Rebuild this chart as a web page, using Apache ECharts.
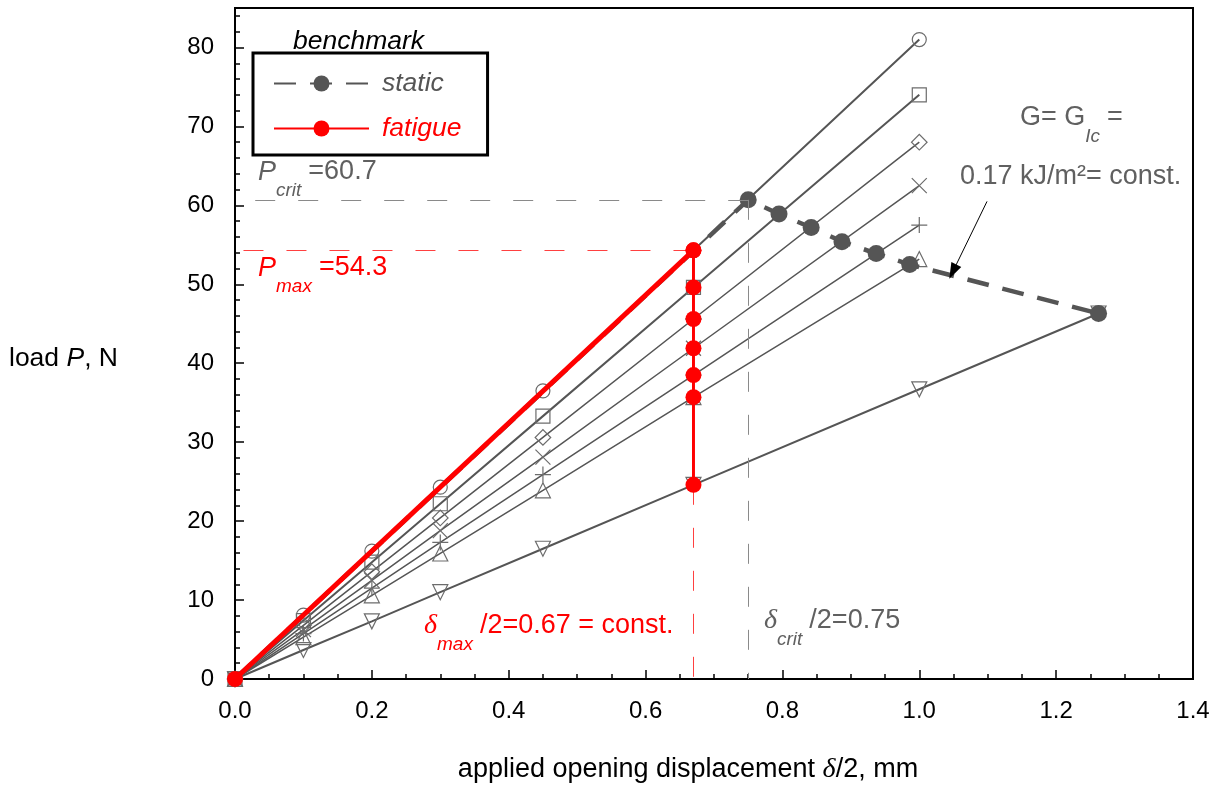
<!DOCTYPE html>
<html>
<head>
<meta charset="utf-8">
<script src="https://cdn.jsdelivr.net/npm/echarts@6/dist/echarts.min.js"></script>
<style>
  html, body { margin: 0; padding: 0; background: #fff; }
  #chart { width: 1220px; height: 786px; }
</style>
</head>
<body>
<div id="chart"></div>
<script>
// Opening displacement δ/2 (mm) at which each compliance line is sampled
const dispSteps = [0, 0.1, 0.2, 0.3, 0.45, 0.67, 1.0];
// Load P (N) along each linear-elastic compliance line (one per crack length)
const loadCircle  = [0, 8.1, 16.2, 24.3, 36.5, 54.3, 81.0];
const loadSquare  = [0, 7.4, 14.8, 22.2, 33.3, 49.6, 74.0];
const loadDiamond = [0, 6.8, 13.6, 20.4, 30.6, 45.6, 68.0];
const loadCross   = [0, 6.25, 12.5, 18.8, 28.1, 41.9, 62.5];
const loadPlus    = [0, 5.75, 11.5, 17.3, 25.9, 38.5, 57.5];
const loadTriUp   = [0, 5.3, 10.6, 15.9, 23.9, 35.7, 53.2];
// the longest crack line runs on to the last static point
const dispTriDown = [0, 0.1, 0.2, 0.3, 0.45, 0.67, 1.0, 1.262];
const loadTriDown = [0, 3.67, 7.3, 11.0, 16.5, 24.6, 36.7, 46.3];

// Static benchmark: crack growth along G = G_Ic
const staticDisp = [0, 0.75, 0.795, 0.842, 0.887, 0.937, 0.986, 1.262];
const staticLoad = [0, 60.7, 58.9, 57.2, 55.4, 53.9, 52.5, 46.3];

// Fatigue benchmark: load up to δmax/2, then hold δmax/2 constant
const DELTA_MAX = 0.67;
const DELTA_CRIT = 0.75;
const P_MAX = 54.3;
const P_CRIT = 60.7;
const fatigueLoads = [54.3, 49.6, 45.6, 41.9, 38.5, 35.7, 24.6];

// Axis ranges
const X_MIN = 0, X_MAX = 1.4, X_STEP = 0.2;
const Y_MIN = 0, Y_MAX = 85, Y_STEP = 10;

const FONT = 'Liberation Sans, Arial, Helvetica, sans-serif';
const SERIF = 'Liberation Serif, DejaVu Serif, serif';
const GRAY_LINE = '#555555';
const GRAY_MARK = '#6c6c6c';
const GRAY_TEXT = '#606060';
const RED = '#ff0000';

const pair = (xs, ys) => xs.map((x, i) => [x, ys[i]]);

function complianceLine(xs, ys, symbol, size, width, extra) {
  return Object.assign({
    type: 'line',
    data: pair(xs, ys),
    symbol: symbol,
    symbolSize: size,
    showAllSymbol: true,
    lineStyle: { color: GRAY_LINE, width: width },
    itemStyle: { color: 'rgba(0,0,0,0)', borderColor: GRAY_MARK, borderWidth: 1.2 },
    emphasis: { disabled: true },
    z: 2
  }, extra || {});
}

const dashGray = { color: '#8a8a8a', width: 1, type: [20, 23] };
const dashRed = { color: '#ff4040', width: 1, type: [20, 23] };

// annotation text styles: main text plus lowered subscript
const MAIN_PX = 27, SUB_PX = 19;
const subPad = [38, 7, 0, 0];
function annoStyle(text, color, x, y) {
  return {
    type: 'text', x: x, y: y, silent: true,
    style: {
      text: text,
      font: MAIN_PX + 'px ' + FONT, fill: color, lineHeight: 30, align: 'left', verticalAlign: 'middle',
      rich: {
        i: { font: 'italic ' + MAIN_PX + 'px ' + FONT, fill: color, lineHeight: 30 },
        d: { font: 'italic 28px ' + SERIF, fill: color, lineHeight: 30 },
        s: { font: 'italic ' + SUB_PX + 'px ' + FONT, fill: color, lineHeight: 22, padding: subPad }
      }
    }
  };
}

const chart = echarts.init(document.getElementById('chart'), null, { renderer: 'canvas' });

const option = {
  animation: false,
  backgroundColor: '#fff',
  grid: {
    left: 235, right: 27, top: 8, bottom: 107,
    containLabel: false, outerBoundsMode: 'none',
    show: true, borderColor: '#000', borderWidth: 2, backgroundColor: 'transparent'
  },
  xAxis: {
    type: 'value', min: X_MIN, max: X_MAX, interval: X_STEP,
    axisLine: { lineStyle: { color: '#000', width: 2 } },
    axisTick: { inside: true, length: 9, lineStyle: { color: '#000', width: 1.5 } },
    minorTick: { show: true, splitNumber: 4, length: 5, lineStyle: { color: '#000', width: 1.5 } },
    splitLine: { show: false },
    minorSplitLine: { show: false },
    axisLabel: { formatter: v => v.toFixed(1), fontSize: 24, color: '#000', fontFamily: FONT, margin: 20 },
    name: 'applied opening displacement {d|δ}/2, mm',
    nameLocation: 'middle', nameGap: 77,
    nameTextStyle: {
      fontSize: 27, color: '#000', fontFamily: FONT, padding: [0, 52, 0, 0],
      rich: { d: { fontSize: 28, fontStyle: 'italic', fontFamily: SERIF, color: '#000' } }
    }
  },
  yAxis: {
    type: 'value', min: Y_MIN, max: Y_MAX, interval: Y_STEP,
    axisLine: { lineStyle: { color: '#000', width: 2 } },
    axisTick: { inside: true, length: 9, lineStyle: { color: '#000', width: 1.5 } },
    minorTick: { show: true, splitNumber: 5, length: 5, lineStyle: { color: '#000', width: 1.5 } },
    splitLine: { show: false },
    minorSplitLine: { show: false },
    axisLabel: { fontSize: 24, color: '#000', fontFamily: FONT, margin: 21, showMaxLabel: false },
    name: 'load {p|P}, N',
    nameLocation: 'middle', nameRotate: 0, nameGap: 117,
    nameTextStyle: {
      fontSize: 26.5, color: '#000', fontFamily: FONT, align: 'right', padding: [30, 0, 0, 0],
      rich: { p: { fontSize: 26.5, fontStyle: 'italic', fontFamily: FONT, color: '#000' } }
    }
  },
  legend: {
    left: 253, top: 53, orient: 'vertical',
    data: [
      { name: 'static', textStyle: { color: GRAY_LINE } },
      { name: 'fatigue', textStyle: { color: RED } }
    ],
    itemWidth: 95, itemHeight: 20, itemGap: 18,
    padding: [17, 26, 13, 20],
    borderColor: '#000', borderWidth: 3, borderRadius: 0,
    textStyle: { fontSize: 26.5, fontStyle: 'italic', fontFamily: FONT, padding: [0, 0, 0, 8] },
    selectedMode: false
  },
  series: [
    complianceLine(dispSteps, loadCircle, 'circle', 14, 2),
    complianceLine(dispSteps, loadSquare, 'rect', 14, 2),
    complianceLine(dispSteps, loadDiamond, 'rect', 11, 1.5, { symbolRotate: 45 }),
    complianceLine(dispSteps, loadCross, 'path://M0,0L10,10M10,0L0,10', 15, 1.5),
    complianceLine(dispSteps, loadPlus, 'path://M5,0L5,10M0,5L10,5', 16, 1.5),
    complianceLine(dispSteps, loadTriUp, 'triangle', 15, 1.5),
    complianceLine(dispTriDown, loadTriDown, 'triangle', 15, 2, { symbolRotate: 180 }),
    {
      name: 'static', type: 'line',
      data: staticDisp.map((x, i) => ({ value: [x, staticLoad[i]], symbol: i === 0 ? 'none' : 'circle' })),
      symbol: 'circle', symbolSize: 17, showAllSymbol: true,
      lineStyle: { color: GRAY_LINE, width: 4.5, type: [22, 14] },
      itemStyle: { color: GRAY_LINE },
      emphasis: { disabled: true },
      z: 3,
      markLine: {
        silent: true, symbol: ['none', 'none'], label: { show: false },
        animation: false,
        data: [
          [{ coord: [DELTA_CRIT, P_CRIT], lineStyle: dashGray }, { coord: [X_MIN, P_CRIT] }],
          [{ coord: [DELTA_CRIT, P_CRIT], lineStyle: dashGray }, { coord: [DELTA_CRIT, Y_MIN] }],
          [
            { coord: [1.099, 60.5], symbol: 'none', lineStyle: { color: '#000', width: 1, type: 'solid' } },
            { coord: [1.049, 51.6], symbol: 'triangle', symbolSize: [11, 16] }
          ]
        ]
      }
    },
    {
      name: 'fatigue', type: 'line',
      data: [[0, 0], [DELTA_MAX, P_MAX]],
      symbol: 'circle', symbolSize: 16,
      lineStyle: { color: RED, width: 5 },
      itemStyle: { color: RED },
      emphasis: { disabled: true },
      z: 5,
      markLine: {
        silent: true, symbol: ['none', 'none'], label: { show: false },
        animation: false,
        lineStyle: dashRed,
        data: [
          [{ coord: [DELTA_MAX, P_MAX], lineStyle: dashRed }, { coord: [X_MIN, P_MAX] }],
          [{ coord: [DELTA_MAX, fatigueLoads[fatigueLoads.length - 1]], lineStyle: dashRed }, { coord: [DELTA_MAX, Y_MIN] }]
        ]
      }
    },
    {
      name: 'fatigue', type: 'line',
      data: fatigueLoads.map(p => [DELTA_MAX, p]),
      symbol: 'circle', symbolSize: 16, showAllSymbol: true,
      lineStyle: { color: RED, width: 3 },
      itemStyle: { color: RED },
      emphasis: { disabled: true },
      z: 5
    }
  ],
  graphic: [
    {
      type: 'text', x: 293, y: 42, silent: true,
      style: { text: 'benchmark', font: 'italic 26.5px ' + FONT, fill: '#000', align: 'left', verticalAlign: 'middle' }
    },
    annoStyle('{i|P}{s|crit}=' + P_CRIT.toFixed(1), GRAY_TEXT, 258, 172),
    annoStyle('{i|P}{s|max}=' + P_MAX.toFixed(1), RED, 258, 268),
    annoStyle('{d|δ}{s|max}/2=' + DELTA_MAX.toFixed(2) + ' = const.', RED, 424, 626),
    annoStyle('{d|δ}{s|crit}/2=' + DELTA_CRIT.toFixed(2), GRAY_TEXT, 764, 621),
    annoStyle('G= G{s|Ic}=', GRAY_TEXT, 1020, 118),
    {
      type: 'text', x: 960, y: 177, silent: true,
      style: { text: '0.17 kJ/m²= const.', font: MAIN_PX + 'px ' + FONT, fill: GRAY_TEXT, align: 'left', verticalAlign: 'middle' }
    }
  ]
};

chart.setOption(option);
</script>
</body>
</html>
